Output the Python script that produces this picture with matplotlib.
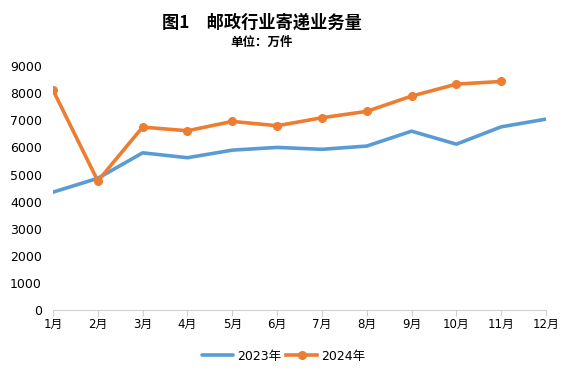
import matplotlib
matplotlib.use("Agg")
import matplotlib.pyplot as plt

plt.rcParams['font.family'] = ['DejaVu Sans', 'Noto Sans CJK SC']

months = ['1月', '2月', '3月', '4月', '5月', '6月', '7月', '8月', '9月', '10月', '11月', '12月']
vol_2023 = [4350, 4860, 5800, 5620, 5900, 6000, 5930, 6050, 6600, 6120, 6760, 7045]
vol_2024 = [8115, 4760, 6750, 6615, 6960, 6800, 7095, 7330, 7895, 8335, 8435]

fig = plt.figure(figsize=(5.67, 3.78), dpi=100)
ax = fig.add_axes([0.0935, 0.18, 0.8695, 0.645])

x23 = list(range(1, len(vol_2023) + 1))
x24 = list(range(1, len(vol_2024) + 1))
ax.plot(x23, vol_2023, color='#5B9BD5', lw=2.6, label='2023年', solid_capstyle='round')
ax.plot(x24, vol_2024, color='#ED7D31', lw=2.6, marker='o', ms=5.5, label='2024年')

ax.set_xlim(1, 12)
ax.set_ylim(0, 9000)
ax.set_xticks(x23)
ax.set_xticklabels(months, fontsize=8.5)
ax.set_yticks(range(0, 9001, 1000))
ax.tick_params(axis='y', length=0, labelsize=9, pad=8)
ax.tick_params(axis='x', length=4, color='#d0d0d0', pad=2)
for s in ['top', 'right', 'left']:
    ax.spines[s].set_visible(False)
ax.spines['bottom'].set_color('#d0d0d0')

cjk = ['Noto Sans CJK SC', 'DejaVu Sans']
fig.text(0.462, 0.94, '图1　邮政行业寄递业务量', ha='center', va='center',
         fontsize=12.4, fontweight='bold', family=cjk)
fig.text(0.462, 0.888, '单位：万件', ha='center', va='center', fontsize=9,
         fontweight='bold', family=cjk)

fig.legend(loc='center', bbox_to_anchor=(0.5, 0.058), ncol=2, frameon=False,
           fontsize=9, handlelength=2.5, columnspacing=0.4, handletextpad=0.3)

fig.savefig('out.png', dpi=100)
